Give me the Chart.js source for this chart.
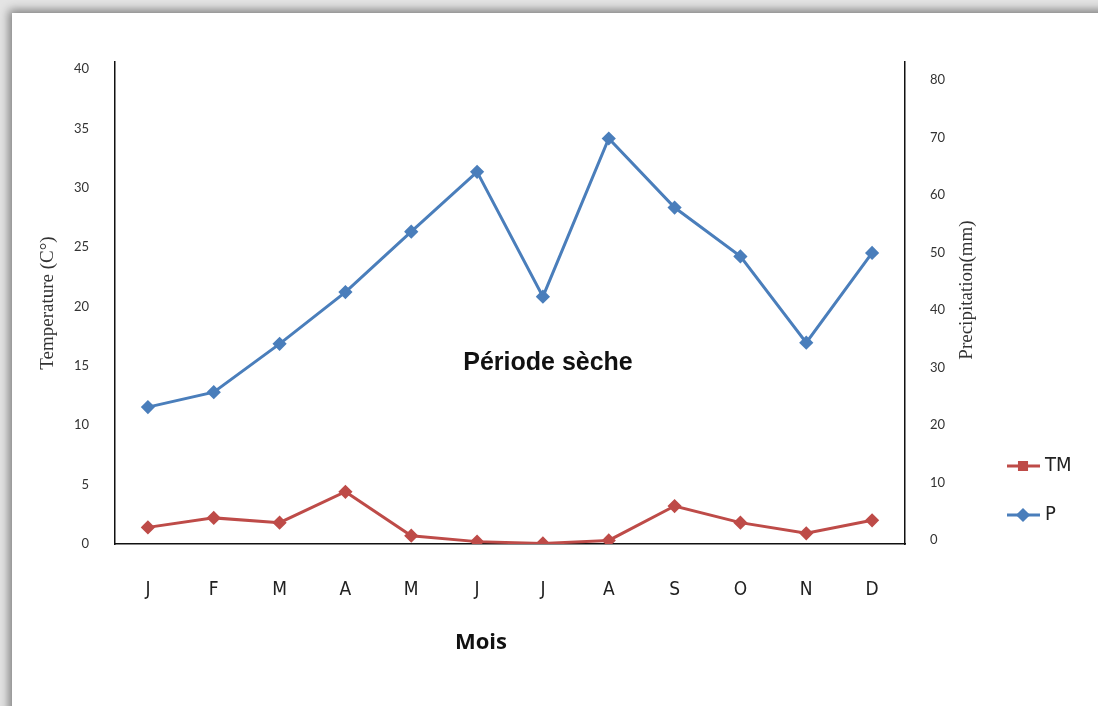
<!DOCTYPE html>
<html>
<head>
<meta charset="utf-8">
<script src="https://cdn.jsdelivr.net/npm/chart.js@4/dist/chart.umd.min.js"></script>
<style>
  html, body { margin: 0; padding: 0; width: 1098px; height: 706px; overflow: hidden; background: #e4e4e4; }
  #frame { position: absolute; left: 12px; top: 13px; width: 1120px; height: 720px; background: #fff;
           box-shadow: -3px -3px 9px rgba(0,0,0,0.45); }
  #chart { position: absolute; left: 0; top: 0; }
</style>
</head>
<body>
<div id="frame"></div>
<canvas id="chart" width="1098" height="706"></canvas>
<script>
// months
const months = ['J', 'F', 'M', 'A', 'M', 'J', 'J', 'A', 'S', 'O', 'N', 'D'];
// mean temperature (left axis)
const tmValues = [1.4, 2.2, 1.8, 4.4, 0.7, 0.2, 0.05, 0.3, 3.2, 1.8, 0.9, 2.0];
// precipitation in mm (right axis)
const pValues = [23.1, 25.7, 34.1, 43.1, 53.6, 64.0, 42.3, 69.8, 57.8, 49.3, 34.3, 49.9];
const leftTicks = [0, 5, 10, 15, 20, 25, 30, 35, 40];
const rightTicks = [0, 10, 20, 30, 40, 50, 60, 70, 80];

const blue = '#4a7ebb';
const red = '#be4b48';
const narrow = '"DejaVu Sans Condensed", "Liberation Sans", sans-serif';

// texts drawn on top: right title, x title, annotation, legend
const extraText = {
    id: 'extraText',
    afterDraw(chart) {
        const ctx = chart.ctx;
        const area = chart.chartArea;
        ctx.save();
        ctx.fillStyle = '#333';
        ctx.textAlign = 'center';
        ctx.textBaseline = 'middle';

        // right axis title, reads bottom to top
        ctx.font = '19px "Liberation Serif"';
        ctx.translate(967, 290);
        ctx.rotate(-Math.PI / 2);
        ctx.fillText('Precipitation(mm)', 0, 0);
        ctx.setTransform(1, 0, 0, 1, 0, 0);

        ctx.fillStyle = '#111';
        ctx.font = 'bold 22px "Open Sans"';
        ctx.fillText('Mois', (area.left + area.right) / 2 - 29, 643);

        ctx.font = 'bold 25px "Liberation Sans"';
        ctx.fillText('Période sèche', 548, 363);

        // legend
        const items = [
            { ds: chart.data.datasets[0], style: 'rect', y: 466 },
            { ds: chart.data.datasets[1], style: 'rectRot', y: 515 }
        ];
        items.forEach(it => {
            ctx.strokeStyle = it.ds.borderColor;
            ctx.lineWidth = 3;
            ctx.beginPath();
            ctx.moveTo(1007, it.y);
            ctx.lineTo(1040, it.y);
            ctx.stroke();
            ctx.fillStyle = it.ds.borderColor;
            Chart.helpers.drawPoint(ctx, { pointStyle: it.style, radius: 5, borderWidth: 1 }, 1023, it.y);
            ctx.fill();
            ctx.fillStyle = '#222';
            ctx.textAlign = 'left';
            ctx.font = '20px ' + narrow;
            ctx.fillText(it.ds.label, 1045, it.y);
        });
        ctx.restore();
    }
};

const tickFont = { family: 'Lato', size: 13 };

new Chart(document.getElementById('chart'), {
    type: 'line',
    data: {
        labels: months,
        datasets: [{
            label: 'TM',
            data: tmValues,
            yAxisID: 'y',
            borderColor: red,
            backgroundColor: red,
            borderWidth: 3,
            pointStyle: 'rectRot',
            pointRadius: 5,
            tension: 0
        }, {
            label: 'P',
            data: pValues,
            yAxisID: 'y1',
            borderColor: blue,
            backgroundColor: blue,
            borderWidth: 3,
            pointStyle: 'rectRot',
            pointRadius: 5,
            tension: 0
        }]
    },
    options: {
        responsive: false,
        animation: false,
        layout: { padding: { top: 62, left: 0, right: 100, bottom: 20 } },
        plugins: { legend: { display: false }, tooltip: { enabled: false } },
        scales: {
            x: {
                offset: true,
                grid: { display: false },
                border: { display: true, color: '#111', width: 1.5 },
                ticks: { color: '#222', font: { family: narrow, size: 19 }, padding: 27, maxRotation: 0 },
                afterFit: s => { s.height = 142; }
            },
            y: {
                position: 'left',
                min: 0,
                max: 40.6,
                grid: { display: false },
                border: { display: true, color: '#111', width: 1.5 },
                ticks: { color: '#333', font: tickFont, padding: 18 },
                afterBuildTicks: s => { s.ticks = leftTicks.map(v => ({ value: v })); },
                afterFit: s => { s.width = 115; },
                title: {
                    display: true,
                    text: 'Temperature (C°)',
                    color: '#333',
                    font: { family: 'Liberation Serif', size: 19 },
                    padding: { top: 37 }
                }
            },
            y1: {
                position: 'right',
                min: -0.7,
                max: 83.1,
                grid: { display: false },
                border: { display: true, color: '#111', width: 1.5 },
                ticks: { color: '#333', font: tickFont, padding: 17 },
                afterBuildTicks: s => { s.ticks = rightTicks.map(v => ({ value: v })); },
                afterFit: s => { s.width = 93; }
            }
        }
    },
    plugins: [extraText]
});
</script>
</body>
</html>
